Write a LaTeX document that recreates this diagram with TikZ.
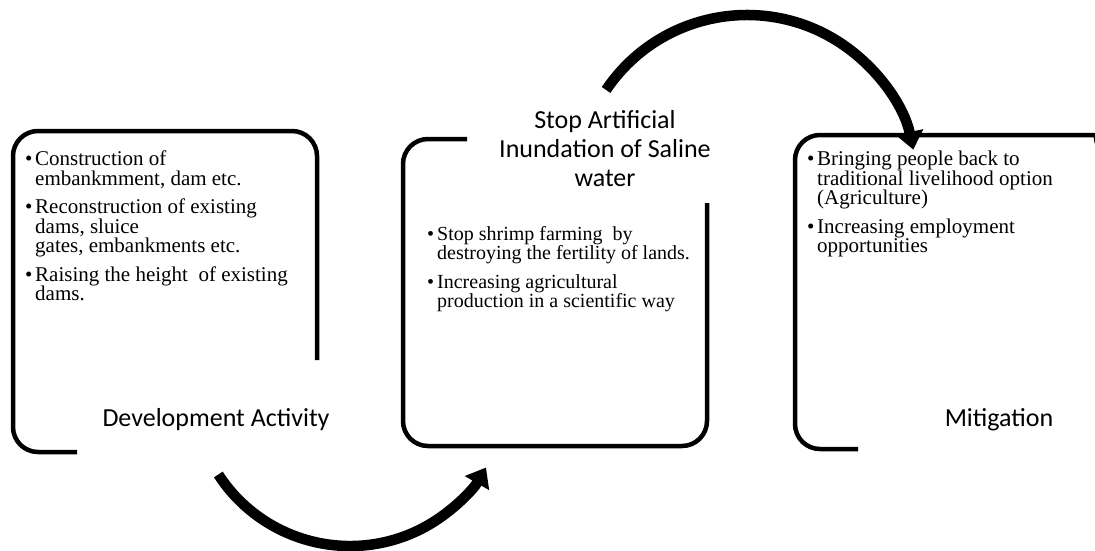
\documentclass[tikz,border=0pt]{standalone}
\usepackage{fontspec}
\setmainfont{Liberation Serif}
\newfontfamily\headfont{Carlito}
\usetikzlibrary{arrows.meta,calc}

% bullet item helpers for the list texts
\newcommand\bulmark{\makebox[10pt][l]{•}}
\newcommand\contline{\hspace*{10pt}}

\tikzset{
  boxline/.style={line width=4.5pt, rounded corners=25pt},
  flow/.style={line width=10.5pt, -{Triangle[length=18pt,width=27pt]}},
  listtext/.style={inner sep=0pt, align=left, anchor=north west,
    font=\fontsize{21}{19.5}\selectfont},
  headtext/.style={inner sep=0pt, font=\headfont\fontsize{26}{29}\selectfont},
}

\begin{document}
\begin{tikzpicture}[x=1pt, y=-1pt]
  \useasboundingbox (0,0) rectangle (1095,550);

  % open rounded frames of the three stages
  \draw[boxline] (77,452) -| (13,131) -| (317,360);
  \draw[boxline] (467,139) -| (403,446) -| (707,203);
  \draw[boxline] (858,449) -| (795,135) -- (1076,135)
    arc[start angle=-90, end angle=0, radius=25];

  % stage 1: development activity
  \node[listtext] (devlist) at (25,151) {%
    \bulmark Construction of\\
    \contline embankmment, dam etc.\\[9pt]
    \bulmark Reconstruction of existing\\
    \contline dams, sluice\\
    \contline gates, embankments etc.\\[9pt]
    \bulmark Raising the height \ of existing\\
    \contline dams.};
  \node[headtext, anchor=base] (devhead) at (216,426) {Development Activity};

  % stage 2: stop saline inundation
  \node[headtext, align=center, anchor=north] (stophead) at (605,110)
    {Stop Artificial\\Inundation of Saline\\water};
  \node[listtext, font=\fontsize{20}{19.5}\selectfont] (stoplist) at (427,226) {%
    \bulmark Stop shrimp farming \ by\\
    \contline destroying the fertility of lands.\\[9pt]
    \bulmark Increasing agricultural\\
    \contline production in a scientific way};

  % stage 3: mitigation
  \node[listtext] (mitlist) at (807,151) {%
    \bulmark Bringing people back to\\
    \contline traditional livelihood option\\
    \contline (Agriculture)\\[9pt]
    \bulmark Increasing employment\\
    \contline opportunities};
  \node[headtext, anchor=base] (mithead) at (999,426) {Mitigation};

  % curved arrows between the stages
  \coordinate (lowc) at (350,389);
  \coordinate (lowstart) at ($(lowc)+(147:157)$);
  \coordinate (lowend) at ($(lowc)+(30:157)$);
  \draw[flow] (lowstart) arc[start angle=147, end angle=30, radius=157];

  \coordinate (upc) at (747,185);
  \coordinate (upstart) at ($(upc)+(-146:170)$);
  \coordinate (upend) at ($(upc)+(-12:170)$);
  \draw[flow] (upstart) arc[start angle=-146, end angle=-12, radius=170];
\end{tikzpicture}
\end{document}
